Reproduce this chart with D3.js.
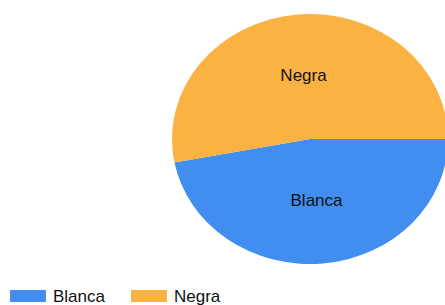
<!DOCTYPE html>
<html>
<head>
<meta charset="utf-8">
<script src="https://cdn.jsdelivr.net/npm/d3@7"></script>
<style>
  body { margin: 0; background: #fff; }
  text { font-family: "Liberation Sans", Arial, sans-serif; }
</style>
</head>
<body>
<svg id="chart" width="445" height="305"></svg>
<script>
// data
const categories = ['Blanca', 'Negra']
const values = [47, 53]
const colors = ['#418ef0', '#fab342']

const svg = d3.select('#chart')

// pie is drawn as an ellipse (wider than tall)
const cx = 310, cy = 139
const rx = 138, ry = 125

const pie = d3.pie()
	.sort(null)
	.value(d => d.value)
	.startAngle(Math.PI / 2)
	.endAngle(Math.PI / 2 + 2 * Math.PI)

const slices = pie(categories.map((c, i) => ({ name: c, value: values[i], color: colors[i] })))

const arc = d3.arc().innerRadius(0).outerRadius(rx)
const labelArc = d3.arc().innerRadius(rx * 0.5).outerRadius(rx * 0.5)

const g = svg.append('g').attr('transform', `translate(${cx},${cy})`)

g.append('g')
	.attr('transform', `scale(1,${ry / rx})`)
	.selectAll('path')
	.data(slices)
	.enter()
	.append('path')
	.attr('d', arc)
	.attr('fill', d => d.data.color)

// labels (centroid at half radius, squashed to the ellipse)
g.selectAll('.label')
	.data(slices)
	.enter()
	.append('text')
	.attr('class', 'label')
	.attr('x', d => labelArc.centroid(d)[0])
	.attr('y', d => labelArc.centroid(d)[1] * ry / rx)
	.attr('text-anchor', 'middle')
	.attr('dy', '0.27em')
	.attr('font-size', 17)
	.attr('fill', '#111')
	.text(d => d.data.name)

// legend
const legend = svg.append('g').attr('transform', 'translate(10,290)')
const item = legend.selectAll('.item')
	.data(categories)
	.enter()
	.append('g')
	.attr('class', 'item')
	.attr('transform', (d, i) => `translate(${i * 121},0)`)

item.append('rect')
	.attr('width', 36)
	.attr('height', 12)
	.attr('fill', (d, i) => colors[i])

item.append('text')
	.attr('x', 43)
	.attr('y', 12)
	.attr('font-size', 17)
	.attr('fill', '#111')
	.text(d => d)
</script>
</body>
</html>
